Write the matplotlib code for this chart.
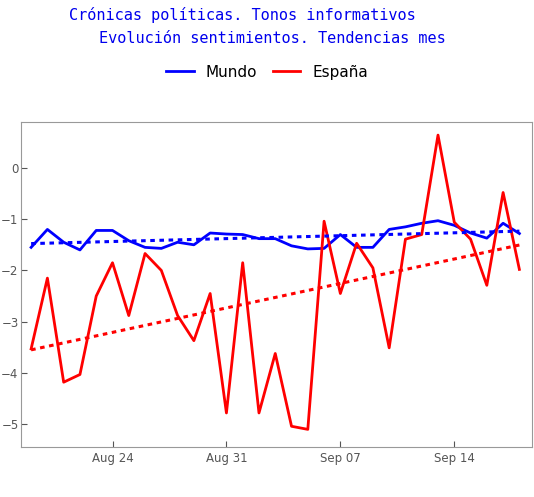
import matplotlib
matplotlib.use("Agg")
import matplotlib.pyplot as plt
import numpy as np
import matplotlib.dates as mdates
from datetime import date, timedelta

dates = [date(2020, 8, 19) + timedelta(days=i) for i in range(31)]
espana = [-3.53, -2.15, -4.18, -4.03, -2.5, -1.85, -2.88, -1.67, -2.0, -2.88, -3.37,
          -2.45, -4.78, -1.85, -4.78, -3.62, -5.04, -5.1, -1.04, -2.45, -1.47, -1.95,
          -3.51, -1.39, -1.3, 0.64, -1.06, -1.39, -2.29, -0.48, -1.98]
mundo = [-1.55, -1.2, -1.45, -1.6, -1.22, -1.22, -1.42, -1.55, -1.57, -1.45, -1.5,
         -1.27, -1.29, -1.3, -1.38, -1.38, -1.52, -1.58, -1.57, -1.3, -1.55, -1.55,
         -1.2, -1.15, -1.08, -1.03, -1.12, -1.27, -1.37, -1.08, -1.28]

fig = plt.figure(figsize=(5.34, 4.97), dpi=100)
ax = fig.add_axes([0.04, 0.10, 0.957, 0.655])
x = mdates.date2num(dates)
idx = np.arange(len(x))
ax.plot(x, mundo, color="#0000ff", lw=2, label="Mundo")
ax.plot(x, espana, color="#ff0000", lw=2, label="España")
for s, c in ((mundo, "#0000ff"), (espana, "#ff0000")):
    p = np.polyfit(idx, s, 1)
    ax.plot(x, np.polyval(p, idx), color=c, lw=2.2, ls=(0, (1.5, 1.5)))
ax.set_xlim(x[0] - 0.6, x[-1] + 0.8)
ax.set_ylim(-5.45, 0.9)
ax.set_yticks([-5, -4, -3, -2, -1, 0])
ax.set_yticklabels(["−5", "−4", "−3", "−2", "−1", "0"])
ax.set_xticks(mdates.date2num([date(2020, 8, 24), date(2020, 8, 31), date(2020, 9, 7), date(2020, 9, 14)]))
ax.xaxis.set_major_formatter(mdates.DateFormatter("%b %d"))
for sp in ax.spines.values():
    sp.set_color("#999999")
ax.tick_params(colors="#555555", labelsize=8.5, direction="in", length=4)
ax.tick_params(axis="y", pad=2)
fig.text(0.13, 0.96, "Crónicas políticas. Tonos informativos", color="#0000ee",
         family="DejaVu Sans Mono", fontsize=11, ha="left")
fig.text(0.185, 0.913, "Evolución sentimientos. Tendencias mes", color="#0000ee",
         family="DejaVu Sans Mono", fontsize=11, ha="left")
fig.legend(*ax.get_legend_handles_labels(), loc="center", bbox_to_anchor=(0.5, 0.855),
           ncol=2, frameon=False, fontsize=11, handlelength=1.8, columnspacing=1.0)
fig.savefig("out.png")
